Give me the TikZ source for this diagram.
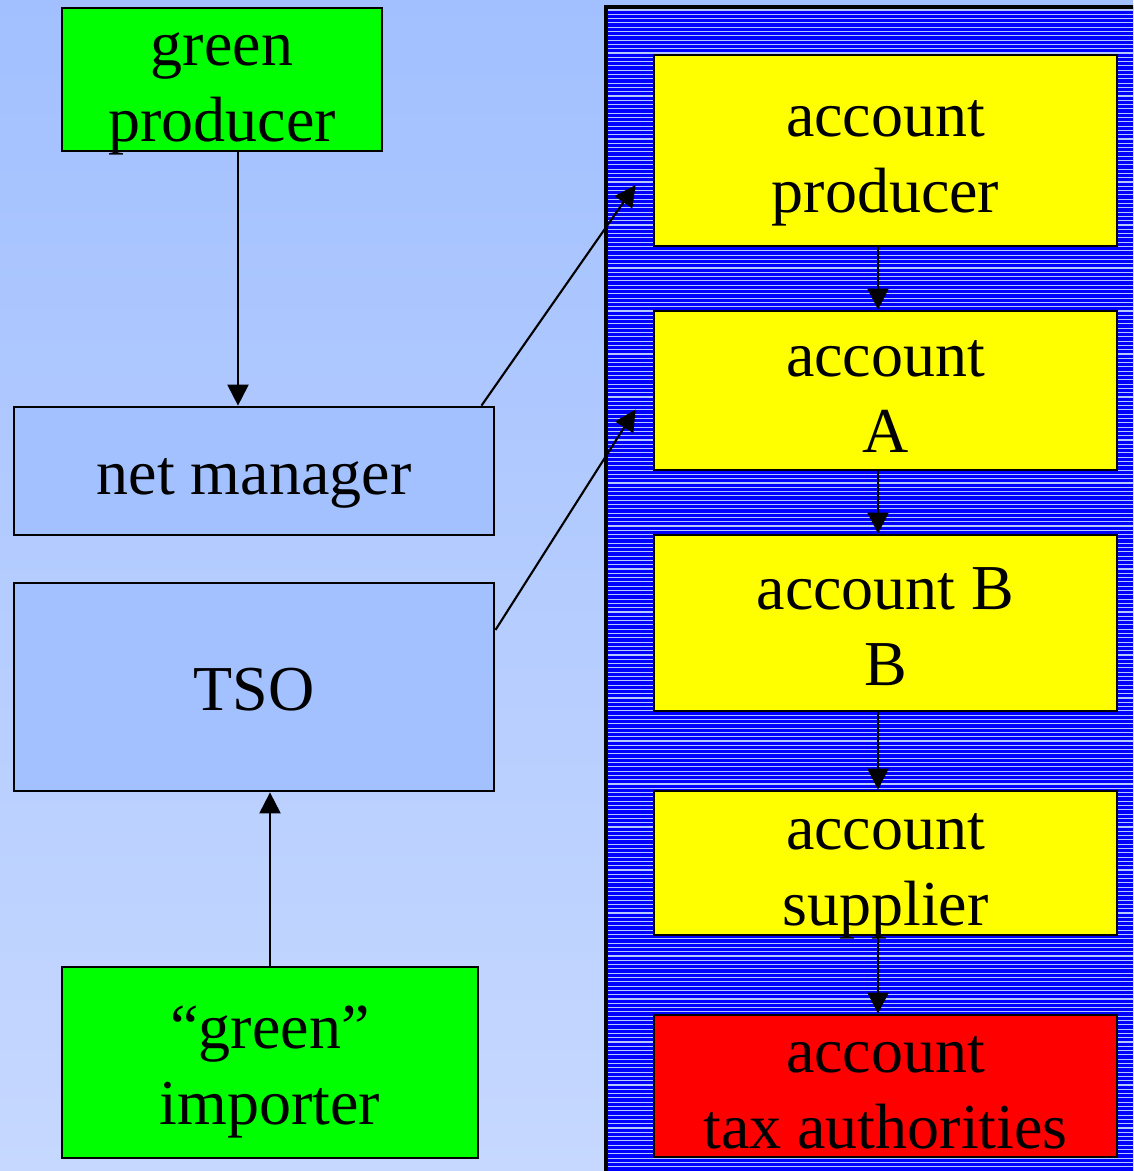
\documentclass[tikz,border=0pt]{standalone}
\usepackage{fontspec}
\setmainfont{Liberation Serif}
\usetikzlibrary{arrows.meta,calc}
\definecolor{bgtop}{RGB}{162,192,255}
\definecolor{bgbottom}{RGB}{198,216,255}
\definecolor{boxblue}{RGB}{164,193,255}
\definecolor{stripe}{RGB}{180,200,255}
\definecolor{greenbox}{RGB}{0,255,0}
\definecolor{yellowbox}{RGB}{255,255,0}
\definecolor{redbox}{RGB}{255,0,0}

\begin{document}
\begin{tikzpicture}[x=0.01cm,y=-0.01cm,>={Triangle[length=6pt,width=6pt]},
 box/.style={draw=black,line width=0.75pt,align=center,inner sep=0pt,
  text height=13.4pt,text depth=0pt,font=\fontsize{18.2}{21.6}\selectfont},
 twoline/.style={box,text height=35.5pt},
 flow/.style={->,line width=0.6pt}]
\useasboundingbox (0,0) rectangle (1133,1171);
\shade[top color=bgtop,bottom color=bgbottom] (0,0) rectangle (1133,1171);
\begin{scope}
 \clip (0,0) rectangle (1133,1171);
 \fill[blue] (606,7) rectangle (1140,1180);
 \foreach \y in {10,14.3,...,1171} {
  \draw[stripe,line width=0.3pt] (608,\y) -- (1140,\y);
 }
 \draw[line width=0.9pt] (606,1180) -- (606,7) -- (1140,7);
\end{scope}
% left column
\node[twoline,fill=greenbox,minimum width=3.2cm,minimum height=1.43cm] (gp) at (222,79.5) {green\\producer};
\node[box,fill=boxblue,minimum width=4.8cm,minimum height=1.28cm] (nm) at (254,471) {net manager};
\node[box,fill=boxblue,minimum width=4.8cm,minimum height=2.08cm] (tso) at (254,687) {TSO};
\node[twoline,fill=greenbox,minimum width=4.16cm,minimum height=1.91cm] (gi) at (270,1062.5) {``green''\\importer};
% accounts
\node[twoline,fill=yellowbox,minimum width=4.63cm,minimum height=1.91cm] (ap) at (885.5,150.5) {account\\producer};
\node[twoline,fill=yellowbox,minimum width=4.63cm,minimum height=1.59cm] (aa) at (885.5,390.5) {account\\A};
\node[twoline,fill=yellowbox,minimum width=4.63cm,minimum height=1.76cm] (ab) at (885.5,623) {account B\\B};
\node[twoline,fill=yellowbox,minimum width=4.63cm,minimum height=1.44cm] (as) at (885.5,863) {account\\supplier};
\node[twoline,fill=redbox,minimum width=4.63cm,minimum height=1.42cm] (at) at (885.5,1086) {account\\tax authorities};
\draw[flow] (gp.south -| 238,0) -- (nm.north -| 238,0);
\draw[flow] (gi.north) -- (tso.south -| gi.north);
\draw[flow] ([xshift=-0.14cm]nm.north east) -- ([xshift=-0.17cm,yshift=-0.345cm]ap.west);
\draw[flow] ([yshift=0.57cm]tso.east) -- ([xshift=-0.17cm,yshift=-0.19cm]aa.west);
\foreach \a/\b in {ap/aa,aa/ab,ab/as,as/at} {
 \draw[flow] (\a.south -| 878,0) -- (\b.north -| 878,0);
}
\end{tikzpicture}
\end{document}
